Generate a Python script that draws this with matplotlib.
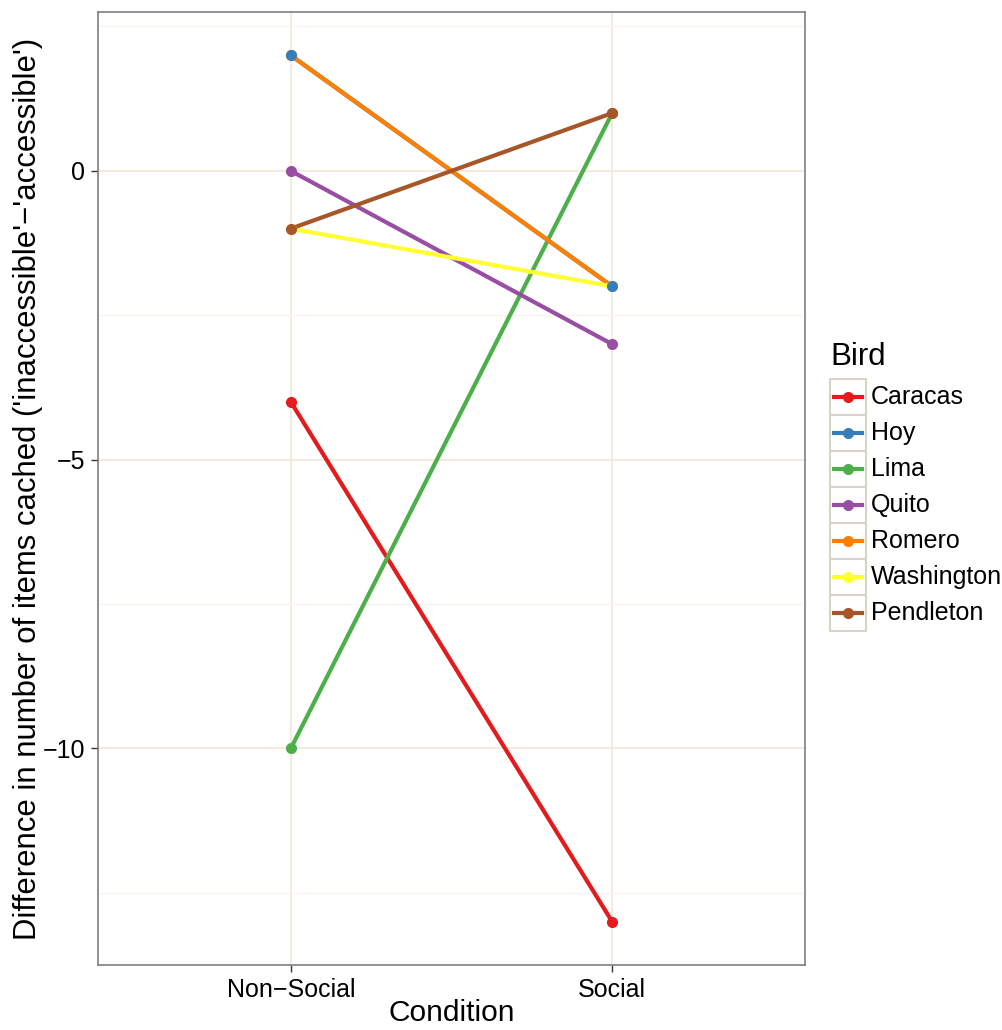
import matplotlib.pyplot as plt
from matplotlib.patches import Rectangle
from matplotlib.lines import Line2D

plt.rcParams['font.family'] = ['Liberation Sans', 'DejaVu Sans']

conditions = ["Non\u2212Social", "Social"]
birds = ["Caracas", "Hoy", "Lima", "Quito", "Romero", "Washington", "Pendleton"]
non_social = [-4, 2, -10, 0, 2, -1, -1]
social = [-13, -2, 1, -3, -2, -2, 1]
colors = ["#E41A1C", "#377EB8", "#4DAF4A", "#984EA3", "#FF7F00", "#FFFF33", "#A65628"]
point_order = ["Caracas", "Lima", "Quito", "Romero", "Washington", "Hoy", "Pendleton"]

fig = plt.figure(figsize=(10.03, 10.30), dpi=100)
ax = fig.add_axes([0.0977, 0.0631, 0.7049, 0.9252])

x = [0, 1]
for b, ns, s, c in zip(birds, non_social, social, colors):
    ax.plot(x, [ns, s], color=c, lw=3, solid_capstyle='butt', zorder=3)
for b in point_order:
    i = birds.index(b)
    ax.plot(x, [non_social[i], social[i]], 'o', color=colors[i], ms=7,
            mec=colors[i], zorder=4, ls='none')

ax.set_xlim(-0.6, 1.6)
ax.set_ylim(-13.75, 2.75)
ax.set_xticks(x)
ax.set_xticklabels(conditions)
ax.set_yticks([0, -5, -10])
ax.set_yticks([2.5, -2.5, -7.5, -12.5], minor=True)
ax.tick_params(axis='both', which='major', labelsize=18, length=5, width=1,
               color='#333333', labelcolor='black', pad=4)
ax.tick_params(axis='y', which='minor', length=0)
ax.grid(True, which='major', color='#F2EADB', lw=1.3, zorder=0)
ax.grid(True, which='minor', axis='y', color='#FAF5EC', lw=1.0, zorder=0)
ax.set_axisbelow(True)
for sp in ax.spines.values():
    sp.set_color('#7f7f7f')
    sp.set_linewidth(1.2)

ax.set_xlabel("Condition", fontsize=21.5, labelpad=-2)
ax.set_ylabel("Difference in number of items cached ('inaccessible'\u2212'accessible')",
              fontsize=22.4, labelpad=0)

# legend
W, H = 1003.0, 1030.0
fig.text(830 / W, 1 - 357 / H, "Bird", fontsize=22.5, va='center', ha='left')
for k, (b, c) in enumerate(zip(birds, colors)):
    top = 379 + 36 * k
    fig.add_artist(Rectangle((830 / W, 1 - (top + 36) / H), 36 / W, 36 / H,
                             transform=fig.transFigure, facecolor='white',
                             edgecolor='#D9D2C8', lw=1.5))
    yc = 1 - (top + 18) / H
    fig.add_artist(Line2D([834 / W, 862 / W], [yc, yc], transform=fig.transFigure,
                          color=c, lw=3))
    fig.add_artist(Line2D([848 / W], [yc], transform=fig.transFigure, marker='o',
                          color=c, ms=7, ls='none'))
    fig.text(871 / W, yc, b, fontsize=18, va='center', ha='left')

fig.savefig("out.png", dpi=100)
